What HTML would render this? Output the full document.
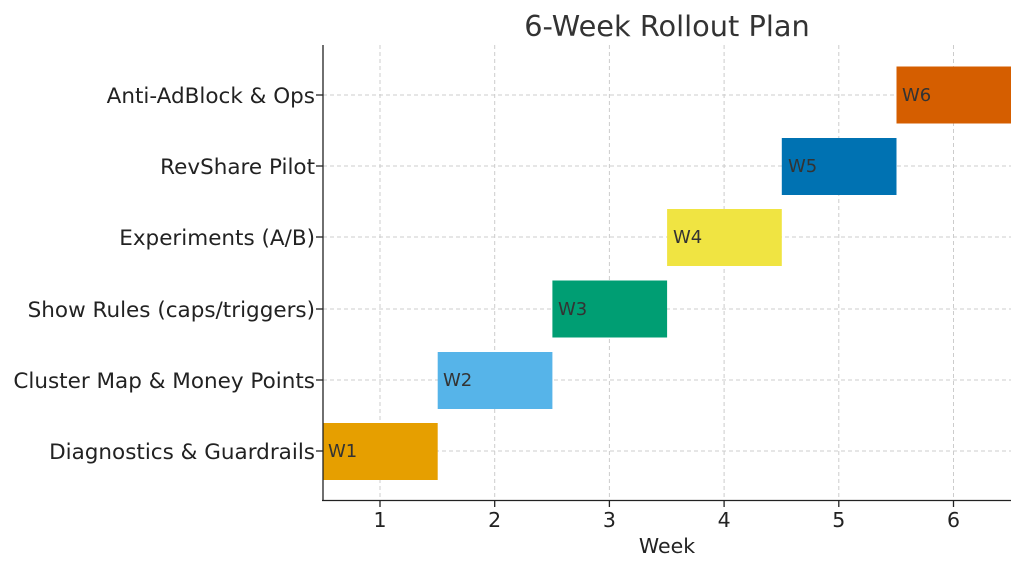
<!DOCTYPE html>
<html><head><meta charset="utf-8"><style>body{margin:0;background:#fff}</style></head>
<body>
<svg width="1024" height="570" xmlns="http://www.w3.org/2000/svg" font-family="DejaVu Sans, Liberation Sans, sans-serif">
<rect width="1024" height="570" fill="#fff"/>
<text x="667" y="36" font-size="28.8" text-anchor="middle" fill="#333">6-Week Rollout Plan</text>
<g stroke="#ccc" stroke-width="1" stroke-dasharray="4,3">
<line x1="380" y1="45" x2="380" y2="500"/><line x1="494.7" y1="45" x2="494.7" y2="500"/>
<line x1="609.4" y1="45" x2="609.4" y2="500"/><line x1="724.1" y1="45" x2="724.1" y2="500"/>
<line x1="838.8" y1="45" x2="838.8" y2="500"/><line x1="953.5" y1="45" x2="953.5" y2="500"/>
<line x1="323" y1="451" x2="1011" y2="451"/><line x1="323" y1="380" x2="1011" y2="380"/>
<line x1="323" y1="309" x2="1011" y2="309"/><line x1="323" y1="237" x2="1011" y2="237"/>
<line x1="323" y1="166" x2="1011" y2="166"/><line x1="323" y1="95" x2="1011" y2="95"/>
</g>
<rect x="323" y="423" width="114.7" height="57" fill="#E69F00"/>
<rect x="437.7" y="352" width="114.7" height="57" fill="#56B4E9"/>
<rect x="552.4" y="280.5" width="114.7" height="57" fill="#009E73"/>
<rect x="667.1" y="209" width="114.7" height="57" fill="#F0E442"/>
<rect x="781.8" y="138" width="114.7" height="57" fill="#0072B2"/>
<rect x="896.5" y="66.5" width="114.5" height="57" fill="#D55E00"/>
<g font-size="18" fill="#333">
<text x="328" y="457">W1</text><text x="443" y="386">W2</text><text x="558" y="315">W3</text>
<text x="673" y="243">W4</text><text x="788" y="172">W5</text><text x="902" y="101">W6</text>
</g>
<g stroke="#222" stroke-width="1.3">
<line x1="323" y1="45" x2="323" y2="501"/><line x1="322" y1="500.5" x2="1011" y2="500.5"/>
<line x1="316" y1="451" x2="323" y2="451"/><line x1="316" y1="380" x2="323" y2="380"/>
<line x1="316" y1="309" x2="323" y2="309"/><line x1="316" y1="237" x2="323" y2="237"/>
<line x1="316" y1="166" x2="323" y2="166"/><line x1="316" y1="95" x2="323" y2="95"/>
<line x1="380" y1="500" x2="380" y2="507"/><line x1="494.7" y1="500" x2="494.7" y2="507"/>
<line x1="609.4" y1="500" x2="609.4" y2="507"/><line x1="724.1" y1="500" x2="724.1" y2="507"/>
<line x1="838.8" y1="500" x2="838.8" y2="507"/><line x1="953.5" y1="500" x2="953.5" y2="507"/>
</g>
<g font-size="21.5" fill="#222" text-anchor="end">
<text x="315" y="459">Diagnostics &amp; Guardrails</text>
<text x="315" y="388">Cluster Map &amp; Money Points</text>
<text x="315" y="317">Show Rules (caps/triggers)</text>
<text x="315" y="245">Experiments (A/B)</text>
<text x="315" y="174">RevShare Pilot</text>
<text x="315" y="103">Anti-AdBlock &amp; Ops</text>
</g>
<g font-size="20.5" fill="#222" text-anchor="middle">
<text x="380" y="527">1</text><text x="494.7" y="527">2</text><text x="609.4" y="527">3</text>
<text x="724.1" y="527">4</text><text x="838.8" y="527">5</text><text x="953.5" y="527">6</text>
<text x="667" y="553">Week</text>
</g>
</svg>
</body></html>
